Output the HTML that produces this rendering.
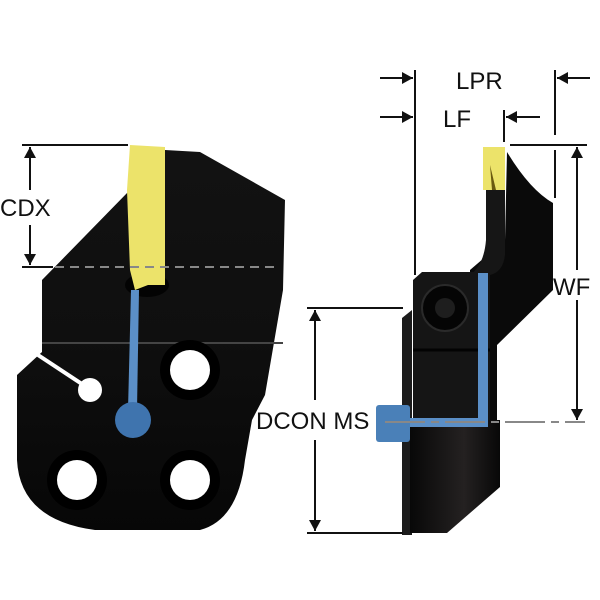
<!DOCTYPE html>
<html><head><style>body{margin:0;background:#fff}svg{display:block}text{font-family:"Liberation Sans",sans-serif;font-size:24px;fill:#111}</style></head><body>
<svg width="600" height="600" viewBox="0 0 600 600" xmlns="http://www.w3.org/2000/svg">
<defs>
<marker id="a" markerWidth="10" markerHeight="12" refX="11" refY="6" orient="auto" markerUnits="userSpaceOnUse"><path d="M0,0 L11,6 L0,12z" fill="#111"/></marker>
<linearGradient id="g" x1="0" y1="0" x2="0" y2="1"><stop offset="0" stop-color="#121212"/><stop offset="0.5" stop-color="#0f0f0f"/><stop offset="1" stop-color="#070707"/></linearGradient>
<linearGradient id="h" x1="0" y1="0" x2="1" y2="0"><stop offset="0" stop-color="#080808"/><stop offset="0.6" stop-color="#242121"/><stop offset="1" stop-color="#080808"/></linearGradient>
</defs>
<!-- LEFT VIEW -->
<path d="M165,150 L200,152 L285,200 L283,290 L265,395 L252,420 L245,460 Q238,520 200,530 L95,530 Q20,520 17,460 L17,375 L42,352 L42,280 L130,190 L140,150 Z" fill="url(#g)"/>
<line x1="42" y1="343" x2="283" y2="343" stroke="#444" stroke-width="2"/>
<ellipse cx="147" cy="285" rx="22" ry="12" fill="#030303"/>
<path d="M130,145 L165,147 L165,285 L148,285 L135,290 L130,270 L127,190 Z" fill="#ece36a"/>
<line x1="55" y1="267" x2="278" y2="267" stroke="#888" stroke-width="2" stroke-dasharray="9,6"/>
<path d="M131,290 L139,290 L137,410 L128,410 Z" fill="#5b8fc7"/>
<circle cx="133" cy="420" r="18" fill="#3f74ae"/>
<line x1="38" y1="355" x2="88" y2="388" stroke="#fff" stroke-width="4"/>
<circle cx="90" cy="390" r="12" fill="#fff"/>
<circle cx="190" cy="370" r="30" fill="#000"/><circle cx="190" cy="370" r="20" fill="#fff"/>
<circle cx="77" cy="480" r="30" fill="#000"/><circle cx="77" cy="480" r="20" fill="#fff"/>
<circle cx="190" cy="480" r="30" fill="#000"/><circle cx="190" cy="480" r="20" fill="#fff"/>
<line x1="22" y1="145" x2="128" y2="145" stroke="#111" stroke-width="2"/>
<line x1="22" y1="267" x2="53" y2="267" stroke="#111" stroke-width="2"/>
<line x1="30" y1="190" x2="30" y2="147" stroke="#111" stroke-width="2" marker-end="url(#a)"/>
<line x1="30" y1="225" x2="30" y2="265" stroke="#111" stroke-width="2" marker-end="url(#a)"/>
<text x="0" y="216">CDX</text>
<!-- RIGHT VIEW -->
<path d="M402,318 L412,310 L412,535 L402,535 Z" fill="#1c1c1c"/>
<path d="M410,420 L500,420 L500,487 L447,533 L410,533 Z" fill="url(#h)"/>
<path d="M507,152 Q530,190 553,203 L553,290 L497,345 L497,420 L470,420 L470,270 L505,240 Z" fill="#0a0a0a"/>
<path d="M486,190 L505,190 L505,255 Q503,272 490,275 L470,275 Q484,265 486,240 Z" fill="#161616"/>
<path d="M413,280 L422,272 L490,272 L490,420 L413,420 Z" fill="#151515"/>
<line x1="413" y1="350" x2="490" y2="350" stroke="#030303" stroke-width="3"/>
<circle cx="445" cy="308" r="23" fill="#050505" stroke="#2a2a2a" stroke-width="2"/>
<circle cx="445" cy="308" r="10" fill="#1e1e1e"/>
<path d="M483,147 L505,147 L505,190 L483,190 Z" fill="#ece36a"/>
<path d="M490,165 L496,190 L492,190 Z" fill="#6a5a10"/>
<path d="M478,273 L488,273 L488,427 L408,427 L408,418 L478,418 Z" fill="#5b8fc7"/>
<rect x="376" y="405" width="34" height="37" rx="3" fill="#4a80b8"/>
<line x1="385" y1="422" x2="585" y2="422" stroke="#888" stroke-width="2" stroke-dasharray="40,6,8,6"/>
<line x1="415" y1="70" x2="415" y2="275" stroke="#111" stroke-width="2"/>
<line x1="380" y1="78" x2="413" y2="78" stroke="#111" stroke-width="2" marker-end="url(#a)"/>
<line x1="380" y1="117" x2="413" y2="117" stroke="#111" stroke-width="2" marker-end="url(#a)"/>
<line x1="555" y1="70" x2="555" y2="135" stroke="#111" stroke-width="2"/>
<line x1="555" y1="150" x2="555" y2="198" stroke="#111" stroke-width="2"/>
<line x1="590" y1="78" x2="557" y2="78" stroke="#111" stroke-width="2" marker-end="url(#a)"/>
<line x1="504" y1="110" x2="504" y2="142" stroke="#111" stroke-width="2"/>
<line x1="540" y1="117" x2="506" y2="117" stroke="#111" stroke-width="2" marker-end="url(#a)"/>
<text x="456" y="89">LPR</text>
<text x="443" y="127">LF</text>
<line x1="510" y1="145" x2="587" y2="145" stroke="#111" stroke-width="2"/>
<line x1="577" y1="270" x2="577" y2="147" stroke="#111" stroke-width="2" marker-end="url(#a)"/>
<line x1="577" y1="300" x2="577" y2="420" stroke="#111" stroke-width="2" marker-end="url(#a)"/>
<text x="553" y="295">WF</text>
<line x1="307" y1="308" x2="403" y2="308" stroke="#111" stroke-width="2"/>
<line x1="307" y1="533" x2="403" y2="533" stroke="#111" stroke-width="2"/>
<line x1="315" y1="400" x2="315" y2="310" stroke="#111" stroke-width="2" marker-end="url(#a)"/>
<line x1="315" y1="440" x2="315" y2="531" stroke="#111" stroke-width="2" marker-end="url(#a)"/>
<text x="256" y="429">DCON MS</text>
</svg>
</body></html>
